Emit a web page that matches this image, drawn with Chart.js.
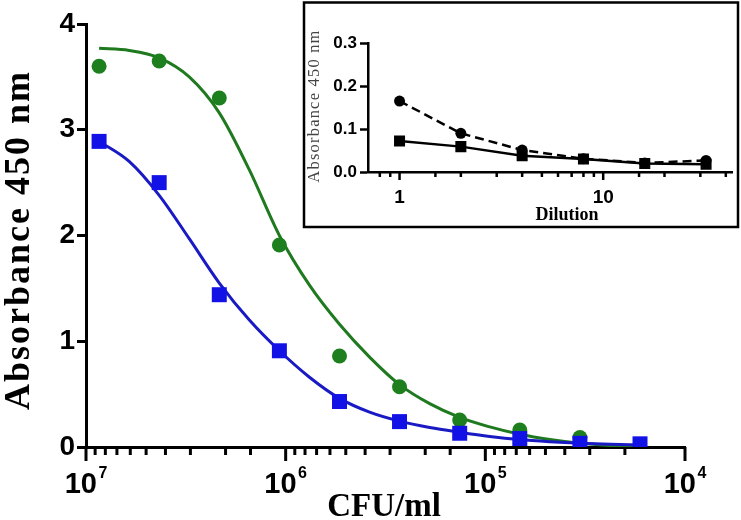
<!DOCTYPE html>
<html><head><meta charset="utf-8">
<script src="https://cdn.jsdelivr.net/npm/chart.js@4.4.0/dist/chart.umd.min.js"></script>
<style>
html,body{margin:0;padding:0;background:#fff;}
#wrap{position:relative;width:741px;height:520px;overflow:hidden;}
#main{position:absolute;left:0;top:0;}
#inset{position:absolute;left:302px;top:1px;background:#fff;}
</style></head><body>
<div id="wrap">
<canvas id="main" width="741" height="520"></canvas>
<canvas id="inset" width="438" height="228"></canvas>
</div>
<script>
// ---------- main chart data ----------
const cfu = [8.6e6, 4.3e6, 2.15e6, 1.075e6, 5.375e5, 2.69e5, 1.344e5, 6.72e4, 3.36e4, 1.68e4];
const greenAbs = [3.60, 3.65, 3.30, 1.91, 0.86, 0.57, 0.255, 0.16, 0.09];
const blueAbs  = [2.89, 2.50, 1.44, 0.91, 0.43, 0.24, 0.13, 0.08, 0.035, 0.03];
// fitted curves
const cfuFit = [8.6e6, 6.08e6, 4.3e6, 3.04e6, 2.15e6, 1.52e6, 1.075e6, 7.6e5, 5.375e5, 3.8e5, 2.69e5, 1.9e5, 1.344e5, 9.5e4, 6.72e4, 4.75e4, 3.36e4, 2.375e4, 1.68e4];
const greenFit = [3.77, 3.75, 3.68, 3.50, 3.16, 2.62, 2.00, 1.53, 1.16, 0.85, 0.59, 0.41, 0.28, 0.19, 0.12, 0.07, 0.035, 0.015, 0.005];
const blueFit  = [2.89, 2.70, 2.38, 1.97, 1.55, 1.20, 0.91, 0.66, 0.46, 0.33, 0.245, 0.185, 0.14, 0.10, 0.07, 0.05, 0.035, 0.025, 0.02];
const xMajor = [1e7, 1e6, 1e5, 1e4];
const xExp = ['7', '6', '5', '4'];
const yTicks = [0, 1, 2, 3, 4];

// ---------- inset data ----------
const dilution = [1, 2, 4, 8, 16, 32];
const insetCircles = [0.165, 0.090, 0.051, 0.031, 0.021, 0.027];
const insetSquares = [0.072, 0.059, 0.038, 0.030, 0.020, 0.018];
const insetXLabels = [1, 10];

const GREEN = '#1e7f1e', GREEN_LINE = '#1f7a1f';
const BLUE = '#1212e6', BLUE_LINE = '#1a1ac4';

const mainDecor = {
  id: 'mainDecor',
  afterDraw(chart) {
    const ctx = chart.ctx, xs = chart.scales.x, a = chart.chartArea;
    ctx.save();
    ctx.strokeStyle = '#000'; ctx.lineWidth = 3;
    xs.ticks.forEach(t => {
      const px = xs.getPixelForValue(t.value);
      const l = Math.log10(t.value);
      const major = Math.abs(l - Math.round(l)) < 1e-6;
      ctx.beginPath(); ctx.moveTo(px, a.bottom); ctx.lineTo(px, a.bottom + (major ? 14 : 8)); ctx.stroke();
    });
    ctx.fillStyle = '#000'; ctx.textAlign = 'left'; ctx.textBaseline = 'alphabetic';
    xMajor.forEach((v, i) => {
      const px = xs.getPixelForValue(v);
      ctx.font = 'bold 29px "Liberation Sans"';
      const w1 = ctx.measureText('10').width;
      ctx.font = 'bold 16px "Liberation Sans"';
      const w2 = ctx.measureText(xExp[i]).width;
      const gap = 1.5;
      const left = px - (w1 + gap + w2) / 2;
      ctx.font = 'bold 29px "Liberation Sans"'; ctx.fillText('10', left, 493);
      ctx.font = 'bold 16px "Liberation Sans"'; ctx.fillText(xExp[i], left + w1 + gap, 478);
    });
    // x title
    ctx.textAlign = 'center';
    ctx.font = 'bold 33px "Liberation Serif"';
    ctx.fillText('CFU/ml', 384, 516);
    // y title
    ctx.translate(20, 240); ctx.rotate(-Math.PI / 2);
    ctx.font = 'bold 36px "Liberation Serif"';
    ctx.letterSpacing = '2px';
    ctx.textBaseline = 'middle';
    ctx.fillText('Absorbance 450 nm', 0, 0);
    ctx.restore();
  }
};

new Chart(document.getElementById('main'), {
  type: 'scatter',
  data: { datasets: [
    { data: cfu.map((x, i) => ({ x, y: blueAbs[i] })), pointStyle: 'rect', pointRadius: 10.6,
      backgroundColor: BLUE, borderColor: BLUE, borderWidth: 0, showLine: false, order: 0 },
    { data: greenAbs.map((y, i) => ({ x: cfu[i], y })), pointStyle: 'circle', pointRadius: 7.5,
      backgroundColor: GREEN, borderColor: GREEN, borderWidth: 0, showLine: false, order: 1 },
    { data: cfuFit.map((x, i) => ({ x, y: blueFit[i] })), showLine: true, pointRadius: 0,
      borderColor: BLUE_LINE, borderWidth: 3, cubicInterpolationMode: 'monotone', order: 2 },
    { data: cfuFit.map((x, i) => ({ x, y: greenFit[i] })), showLine: true, pointRadius: 0,
      borderColor: GREEN_LINE, borderWidth: 3, cubicInterpolationMode: 'monotone', order: 3 }
  ]},
  options: {
    responsive: false, animation: false, devicePixelRatio: 1,
    layout: { padding: { left: 0, right: 56, top: 24, bottom: 0 } },
    plugins: { legend: { display: false }, tooltip: { enabled: false } },
    scales: {
      x: { type: 'logarithmic', reverse: true, min: 1e4, max: 1e7, position: 'bottom',
        grid: { drawOnChartArea: false, drawTicks: false },
        border: { display: true, color: '#000', width: 3 },
        ticks: { display: false },
        afterFit(s) { s.height = 73; } },
      y: { type: 'linear', min: 0, max: 4,
        afterBuildTicks(s) { s.ticks = yTicks.map(v => ({ value: v })); },
        ticks: { color: '#000', padding: 2, font: { family: 'Liberation Sans', weight: 'bold', size: 28 } },
        grid: { drawOnChartArea: false, drawTicks: true, tickLength: 9, tickWidth: 3, tickColor: '#000' },
        border: { display: true, color: '#000', width: 3 },
        afterFit(s) { s.width = 86; } }
    }
  },
  plugins: [mainDecor]
});

const insetDecor = {
  id: 'insetDecor',
  afterDraw(chart) {
    const ctx = chart.ctx, xs = chart.scales.x, a = chart.chartArea;
    ctx.save();
    ctx.strokeStyle = '#000'; ctx.lineWidth = 2.5;
    xs.ticks.forEach(t => {
      const px = xs.getPixelForValue(t.value);
      const l = Math.log10(t.value);
      const major = Math.abs(l - Math.round(l)) < 1e-6;
      if (px < a.left + 1 || px > a.right - 1) return;
      ctx.beginPath(); ctx.moveTo(px, a.bottom); ctx.lineTo(px, a.bottom + (major ? 8 : 5)); ctx.stroke();
    });
    ctx.fillStyle = '#000'; ctx.textAlign = 'center'; ctx.textBaseline = 'alphabetic';
    ctx.font = 'bold 19px "Liberation Sans"';
    insetXLabels.forEach(v => ctx.fillText(String(v), xs.getPixelForValue(v), 202));
    ctx.font = 'bold 18px "Liberation Serif"';
    ctx.fillText('Dilution', 265, 219);
    // border
    ctx.lineWidth = 2.5;
    ctx.strokeRect(2, 1.5, 434, 224.5);
    // y title
    ctx.translate(13, 105); ctx.rotate(-Math.PI / 2);
    ctx.fillStyle = '#444';
    ctx.font = '16.5px "Liberation Serif"';
    ctx.letterSpacing = '1.2px';
    ctx.textBaseline = 'middle';
    ctx.fillText('Absorbance 450 nm', 0, 0);
    ctx.restore();
  }
};

new Chart(document.getElementById('inset'), {
  type: 'scatter',
  data: { datasets: [
    { data: dilution.map((x, i) => ({ x, y: insetSquares[i] })), showLine: true, borderColor: '#000', borderWidth: 2.5,
      pointStyle: 'rect', pointRadius: 7.8, backgroundColor: '#000', pointBorderWidth: 0, order: 0 },
    { data: dilution.map((x, i) => ({ x, y: insetCircles[i] })), showLine: true, borderColor: '#000', borderWidth: 2.5,
      borderDash: [9, 5], pointStyle: 'circle', pointRadius: 5.5, backgroundColor: '#000', pointBorderWidth: 0, order: 1 }
  ]},
  options: {
    responsive: false, animation: false, devicePixelRatio: 1,
    layout: { padding: { left: 0, right: 4, top: 42, bottom: 0 } },
    plugins: { legend: { display: false }, tooltip: { enabled: false } },
    scales: {
      x: { type: 'logarithmic', min: 0.7, max: 43,
        grid: { drawOnChartArea: false, drawTicks: false },
        border: { display: true, color: '#000', width: 2.5 },
        ticks: { display: false },
        afterFit(s) { s.height = 57; } },
      y: { min: 0, max: 0.3,
        ticks: { stepSize: 0.1, callback: v => v.toFixed(1), color: '#000', padding: 3,
          font: { family: 'Liberation Sans', weight: 'bold', size: 17 } },
        grid: { drawOnChartArea: false, drawTicks: true, tickLength: 8, tickWidth: 2.5, tickColor: '#000' },
        border: { display: true, color: '#000', width: 2.5 },
        afterFit(s) { s.width = 66; } }
    }
  },
  plugins: [insetDecor]
});
</script>
</body></html>
